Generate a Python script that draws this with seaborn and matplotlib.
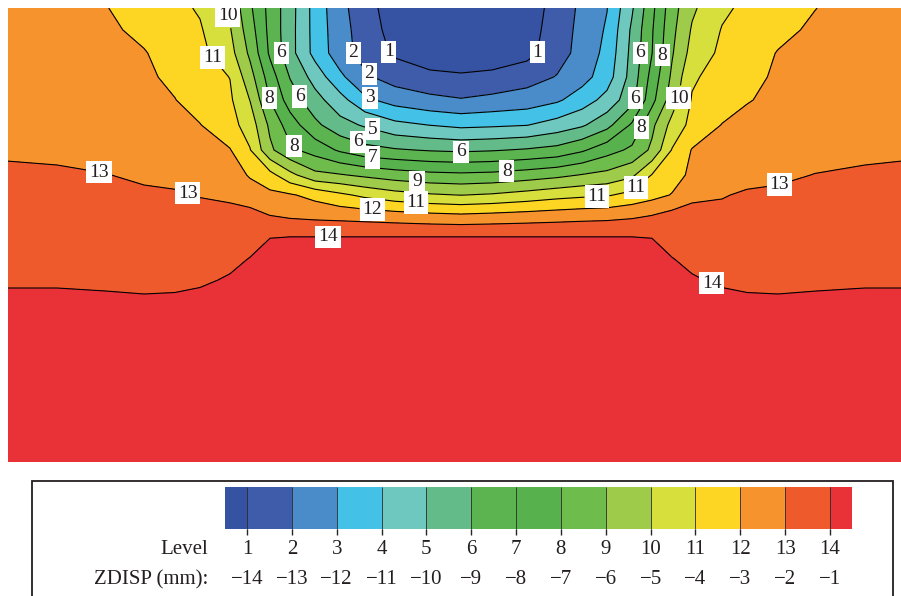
import numpy as np
import matplotlib
matplotlib.use("Agg")
import matplotlib.pyplot as plt
from matplotlib.colors import ListedColormap, BoundaryNorm
from matplotlib.patches import Rectangle
from matplotlib.transforms import blended_transform_factory
import seaborn as sns

# ---------------- data (ZDISP in mm on a section grid) ----------------
x_nodes = [8, 57, 107, 144, 175, 200, 230, 250, 270, 290, 315, 340, 365, 395, 430, 461,
           492, 527, 557, 582, 607, 632, 652, 672, 692, 722, 747, 778, 815, 865, 901]
y_nodes = [8, 30, 53, 77, 100, 125, 150, 175, 195, 215, 235, 260, 280, 300, 462]

zdisp_y008 = [-2.4, -2.55, -2.98, -3.41, -3.76, -4.1, -5.17, -6.83, -8.33, -9.59, -11.38, -12.71, -13.58, -14.55, -14.9, -15.0,
              -14.9, -14.55, -13.6, -12.79, -12.03, -10.12, -8.25, -6.42, -5.17, -4.18, -3.79, -3.44, -3.02, -2.55, -2.4]
zdisp_y030 = [-2.4, -2.55, -2.85, -3.2, -3.59, -3.9, -4.92, -6.55, -8.29, -9.62, -11.36, -12.62, -13.47, -14.4, -14.85, -14.95,
              -14.85, -14.45, -13.5, -12.72, -11.88, -9.83, -8.09, -6.27, -4.9, -3.95, -3.63, -3.23, -2.85, -2.55, -2.4]
zdisp_y053 = [-2.4, -2.5, -2.7, -2.95, -3.37, -3.74, -4.63, -6.2, -8.17, -9.62, -11.33, -12.56, -13.38, -14.15, -14.65, -14.75,
              -14.65, -14.3, -13.41, -12.66, -11.71, -9.71, -8.02, -6.1, -4.64, -3.79, -3.42, -2.96, -2.7, -2.5, -2.4]
zdisp_y077 = [-2.35, -2.45, -2.6, -2.85, -3.18, -3.55, -4.02, -5.6, -7.5, -9.05, -10.39, -11.78, -12.84, -13.43, -13.73, -13.85,
              -13.73, -13.4, -12.95, -12.37, -11.47, -9.6, -7.64, -5.82, -4.14, -3.59, -3.23, -2.88, -2.6, -2.45, -2.35]
zdisp_y100 = [-2.3, -2.4, -2.55, -2.75, -2.98, -3.38, -3.85, -5.02, -7.02, -8.47, -9.63, -10.62, -11.8, -12.39, -12.75, -12.93,
              -12.75, -12.55, -12.15, -11.5, -10.66, -9.33, -7.3, -5.5, -3.92, -3.44, -3.05, -2.8, -2.55, -2.4, -2.3]
zdisp_y125 = [-2.2, -2.28, -2.45, -2.65, -2.85, -2.97, -3.64, -4.45, -6.21, -7.5, -8.76, -9.65, -10.12, -10.73, -11.02, -11.23,
              -11.15, -11.03, -10.58, -10.14, -9.32, -7.85, -6.23, -4.67, -3.7, -2.97, -2.75, -2.6, -2.45, -2.28, -2.2]
zdisp_y150 = [-2.08, -2.15, -2.3, -2.48, -2.65, -2.75, -2.95, -3.95, -5.8, -6.8, -7.4, -8.15, -8.67, -8.9, -9.08, -9.17,
              -9.08, -8.9, -8.67, -8.15, -7.4, -6.8, -5.8, -3.95, -2.95, -2.75, -2.65, -2.48, -2.3, -2.15, -2.08]
zdisp_y175 = [-1.9, -1.9, -1.98, -2.15, -2.25, -2.38, -2.5, -3.1, -3.67, -4.71, -5.73, -5.92, -6.2, -6.5, -6.73, -6.8,
              -6.73, -6.5, -6.25, -5.95, -5.7, -5.2, -3.95, -3.4, -2.8, -2.45, -2.25, -2.15, -1.98, -1.9, -1.9]
zdisp_y195 = [-1.75, -1.75, -1.8, -1.85, -1.9, -2.03, -2.13, -2.5, -2.77, -2.9, -3.3, -3.8, -4.22, -4.62, -4.89, -5.02,
              -4.89, -4.62, -4.35, -4.2, -4.1, -3.7, -3.33, -2.95, -2.2, -2.05, -1.9, -1.85, -1.8, -1.75, -1.75]
zdisp_y215 = [-1.6, -1.6, -1.65, -1.7, -1.72, -1.8, -1.8, -1.7, -2.02, -2.2, -2.32, -2.4, -2.5, -2.64, -2.8, -2.9,
              -2.8, -2.67, -2.55, -2.45, -2.38, -2.22, -2.02, -1.7, -1.7, -1.8, -1.72, -1.7, -1.65, -1.6, -1.6]
zdisp_y235 = [-1.5, -1.5, -1.53, -1.58, -1.58, -1.62, -1.5, -1.4, -1.03, -1.02, -1.02, -1.02, -1.02, -1.02, -1.02, -1.02,
              -1.02, -1.02, -1.02, -1.02, -1.02, -1.02, -1.03, -1.4, -1.5, -1.62, -1.58, -1.58, -1.53, -1.5, -1.5]
zdisp_y260 = [-1.38, -1.38, -1.4, -1.45, -1.43, -1.43, -1.22, -0.95, -0.8, -0.75, -0.75, -0.75, -0.75, -0.75, -0.75, -0.75,
              -0.75, -0.75, -0.75, -0.75, -0.75, -0.75, -0.8, -0.95, -1.22, -1.43, -1.43, -1.45, -1.4, -1.38, -1.38]
zdisp_y280 = [-1.2, -1.2, -1.25, -1.28, -1.25, -1.15, -0.9, -0.75, -0.7, -0.7, -0.7, -0.7, -0.7, -0.7, -0.7, -0.7,
              -0.7, -0.7, -0.7, -0.7, -0.7, -0.7, -0.7, -0.75, -0.9, -1.15, -1.25, -1.28, -1.25, -1.2, -1.2]
zdisp_y300 = [-0.7, -0.7, -0.8, -0.88, -0.85, -0.75, -0.7, -0.65, -0.65, -0.65, -0.65, -0.65, -0.65, -0.65, -0.65, -0.65,
              -0.65, -0.65, -0.65, -0.65, -0.65, -0.65, -0.65, -0.65, -0.7, -0.75, -0.85, -0.88, -0.8, -0.7, -0.7]
zdisp_y462 = [-0.4] * 31

level_numbers = [1, 2, 3, 4, 5, 6, 7, 8, 9, 10, 11, 12, 13, 14]
zdisp_levels = [-14, -13, -12, -11, -10, -9, -8, -7, -6, -5, -4, -3, -2, -1]
zdisp_labels = ["\u221214", "\u221213", "\u221212", "\u221211", "\u221210", "\u22129", "\u22128",
                "\u22127", "\u22126", "\u22125", "\u22124", "\u22123", "\u22122", "\u22121"]

band_colors = ["#3653a3", "#3e5ca9", "#4a8bca", "#43c1e6", "#6ec8c0", "#62bb88", "#5cb450",
               "#57b14c", "#6dbc4c", "#9ecb4a", "#d7df3c", "#fcd623", "#f7932d", "#ef5a2d", "#e93138"]

# contour-label anchor spots: (level number, x, y)
label_spots = [(10, 230, 15), (11, 218, 53), (6, 281, 53), (2, 352, 53), (1, 388, 52), (2, 371, 72),
               (1, 537, 52), (6, 642, 53), (8, 662, 55), (8, 270, 98), (6, 297, 98), (3, 370, 98),
               (6, 627, 97), (10, 678, 98), (5, 372, 132), (8, 642, 128), (8, 295, 145), (6, 357, 145),
               (7, 372, 160), (6, 461, 155), (8, 507, 173), (9, 417, 181), (13, 99, 172), (13, 188, 193),
               (11, 416, 206), (11, 597, 198), (11, 638, 190), (12, 372, 213), (13, 779, 183),
               (14, 328, 235), (14, 713, 280)]

# ---------------- style ----------------
sns.set_theme(style="white")
plt.rcParams['font.family'] = ['Liberation Serif', 'DejaVu Serif']
text_color = "#231f20"

Z = np.array([zdisp_y008, zdisp_y030, zdisp_y053, zdisp_y077, zdisp_y100, zdisp_y125, zdisp_y150,
              zdisp_y175, zdisp_y195, zdisp_y215, zdisp_y235, zdisp_y260, zdisp_y280, zdisp_y300,
              zdisp_y462])
X, Y = np.meshgrid(x_nodes, y_nodes)

W, H = 901, 596
fig = plt.figure(figsize=(W / 100, H / 100), dpi=100)
fig.patch.set_facecolor("white")

ax = fig.add_axes([8 / W, 1 - 462 / H, 893 / W, 454 / H])
pal = sns.color_palette(band_colors)
cmap = ListedColormap(pal[1:-1])
cmap.set_under(pal[0])
cmap.set_over(pal[-1])
norm = BoundaryNorm(zdisp_levels, cmap.N)

cf = ax.contourf(X, Y, Z, levels=zdisp_levels, cmap=cmap, norm=norm, extend='both')
line_sets = {}
for val in zdisp_levels:
    line_sets[val] = ax.contour(X, Y, Z, levels=[val], colors='black', linewidths=0.8,
                                linestyles='solid')
ax.set_xlim(8, 901)
ax.set_ylim(462, 8)
ax.axis('off')

texts = []
for num, lx, ly in label_spots:
    val = zdisp_levels[level_numbers.index(num)]
    res = line_sets[val].clabel(manual=[(lx, ly)], inline=True, inline_spacing=3,
                                fmt={float(val): str(num)}, fontsize=14)
    texts.extend(list(res))
for t in set(texts):
    t.set_rotation(0)
    t.set_color(text_color)
    t.set_bbox(dict(boxstyle='square,pad=0.14', fc='white', ec='none'))

# ---------------- legend box with colour bar ----------------
fig.add_artist(Rectangle((32 / W, -0.05), (893 - 32) / W, (H - 481) / H + 0.05,
                         transform=fig.transFigure, fill=False, ec=text_color, lw=1.3))

cax = fig.add_axes([225 / W, 1 - 529 / H, 627 / W, 42 / H])
cb = fig.colorbar(cf, cax=cax, orientation='horizontal', extendrect=True,
                  extendfrac=22 / 583, drawedges=True)
cb.set_ticks([])
cb.outline.set_visible(False)
cb.dividers.set_color('#2a2a2a')
cb.dividers.set_linewidth(0.6)

trans = blended_transform_factory(cax.transData, fig.transFigure)
for num, val, lab in zip(level_numbers, zdisp_levels, zdisp_labels):
    cax.text(val, 1 - 550 / H, str(num), transform=trans, ha='center', va='center',
             fontsize=15, color=text_color)
    cax.text(val, 1 - 580 / H, lab, transform=trans, ha='center', va='center',
             fontsize=15, color=text_color)
fig.text(208 / W, 1 - 550 / H, "Level", ha='right', va='center', fontsize=15, color=text_color)
fig.text(208 / W, 1 - 580 / H, "ZDISP (mm):", ha='right', va='center', fontsize=15, color=text_color)

fig.savefig("out.png", dpi=100, facecolor="white")
